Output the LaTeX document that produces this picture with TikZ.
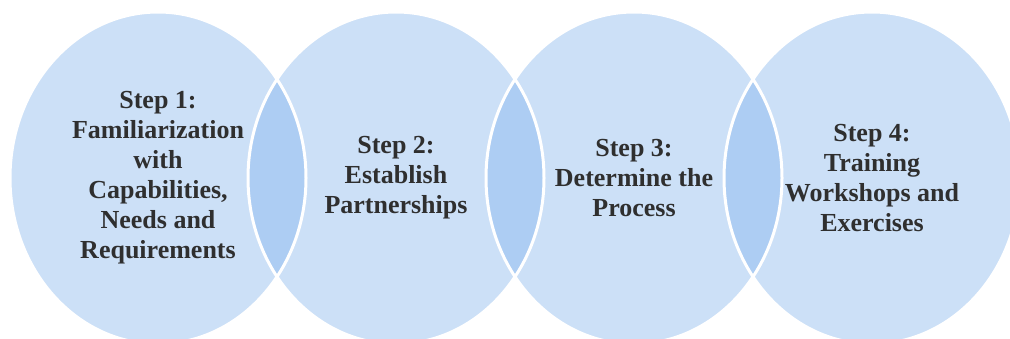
\documentclass[tikz,border=0pt]{standalone}
\usepackage{fontspec}
\setmainfont{Liberation Serif}
\usetikzlibrary{shapes.geometric}

\definecolor{stepblue}{HTML}{CCE0F7}
\definecolor{overlapblue}{HTML}{ADCDF3}
\definecolor{stepink}{HTML}{2F2F2F}

\newcommand{\ovalrx}{148pt}
\newcommand{\ovalry}{166pt}

\tikzset{
  stepnode/.style={ellipse, fill=stepblue, minimum width=2*\ovalrx, minimum height=2*\ovalry,
    inner sep=0pt, outer sep=0pt, align=center, text=stepink,
    font=\fontsize{26}{30}\selectfont\bfseries},
  rim/.style={draw=white, line width=3pt},
}

\begin{document}
\begin{tikzpicture}[x=1pt, y=-1pt]
  \clip (0,0) rectangle (1010,338);
  % the four steps
  \node[stepnode] (s1) at (158,178) {Step 1:\\Familiarization\\with\\Capabilities,\\Needs and\\Requirements};
  \node[stepnode] (s2) at (396,178) {Step 2:\\Establish\\Partnerships};
  \node[stepnode] (s3) at (634,178) {Step 3:\\Determine the\\Process};
  \node[stepnode] (s4) at (872,178) {Step 4:\\Training\\Workshops and\\Exercises};
  %
  % darker lens where neighbours overlap
  \foreach \a/\b in {s1/s2, s2/s3, s3/s4} {
    \begin{scope}
      \clip (\a.center) ellipse [x radius=\ovalrx, y radius=\ovalry];
      \fill[overlapblue] (\b.center) ellipse [x radius=\ovalrx, y radius=\ovalry];
    \end{scope}
  }
  % white rims on top
  \foreach \a in {s1, s2, s3, s4}
    \draw[rim] (\a.center) ellipse [x radius=\ovalrx, y radius=\ovalry];
\end{tikzpicture}
\end{document}
